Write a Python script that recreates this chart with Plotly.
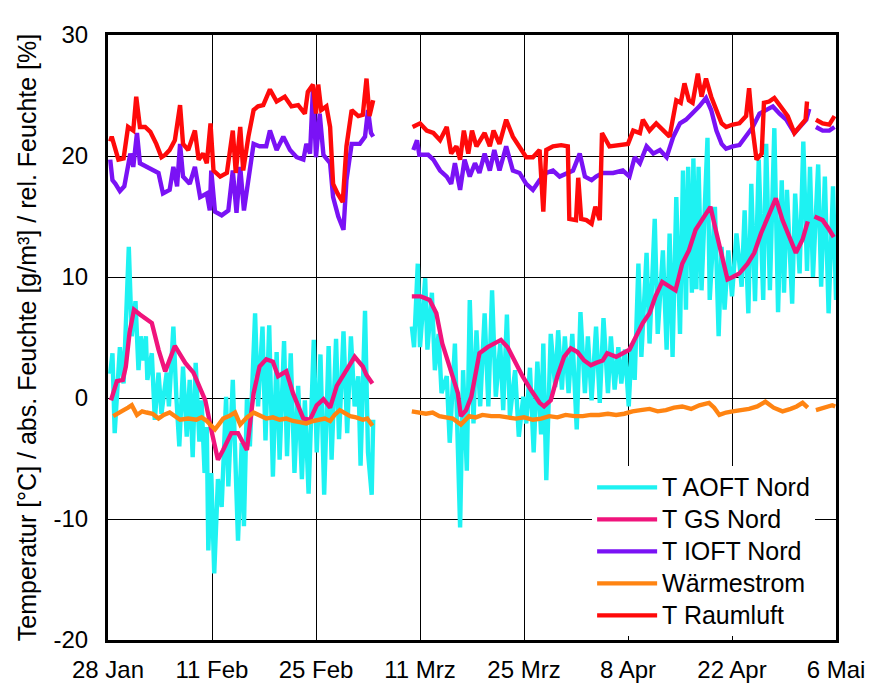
import pandas as pd
import plotly.graph_objects as go

START = pd.Timestamp("2009-01-28")

tick_days = [0, 14, 28, 42, 56, 70, 84, 98]
tick_text = ["28 Jan", "11 Feb", "25 Feb", "11 Mrz", "25 Mrz", "8 Apr", "22 Apr", "6 Mai"]
y_ticks = [-20, -10, 0, 10, 20, 30]
y_tick_text = ["-20", "-10", "0", "10", "20", "30"]

# T AOFT Nord (days since 28 Jan, value)
aoft_day = [0.3, 0.6, 0.9, 1.6, 2.1, 2.8, 3.2, 3.7, 4.1, 4.4, 4.8, 5.1, 5.3, 5.9, 6.3, 6.8, 7.2, 7.9,
            8.2, 8.8, 9.2, 9.6, 10.1, 10.6, 11.0, 11.4, 11.8, 12.3, 12.6, 13.0, 13.3, 13.5, 13.9, 14.3,
            14.8, 15.3, 15.9, 16.2, 16.8, 17.1, 17.5, 18.0, 18.3, 18.7, 19.1, 19.8, 20.2, 20.8, 21.2,
            21.7, 22.2, 22.7, 23.1, 23.7, 24.1, 24.6, 25.1, 25.6, 26.1, 26.5, 27.0, 27.7, 28.1, 28.6,
            29.1, 29.7, 30.1, 30.7, 31.1, 31.7, 32.2, 32.7, 33.2, 33.7, 34.0, 34.6, 35.0, 35.5, 35.7,
            38.0,
            40.9, 41.2, 41.7, 42.0, 42.7, 43.0, 43.6, 44.0, 44.5, 44.9, 45.6, 46.0, 46.7, 47.1, 47.4,
            47.8, 48.3, 48.7, 49.2, 49.6, 50.1, 50.7, 51.2, 51.7, 52.2, 52.8, 53.2, 53.7, 54.1, 54.8,
            55.3, 55.9, 56.3, 56.8, 57.3, 57.8, 58.3, 58.6, 59.0, 59.6, 60.2, 60.6, 61.1, 61.5, 62.0,
            62.5, 63.1, 63.6, 64.2, 64.6, 65.1, 65.7, 66.2, 66.7, 67.3, 67.7, 68.2, 68.7, 69.1, 69.6,
            70.1, 70.5, 70.9, 71.4, 71.8, 72.5, 72.9, 73.6, 74.0, 74.7, 75.2, 75.6, 76.0, 76.5, 77.0,
            77.4, 77.8, 78.1, 78.6, 78.8, 79.2, 79.5, 79.9, 80.7, 81.0, 81.7, 82.2, 82.6, 83.0, 83.5,
            84.0, 84.6, 85.3, 85.7, 86.2, 86.6, 87.1, 87.6, 88.2, 88.6, 89.1, 89.7, 90.2, 90.7, 91.0,
            91.4, 92.1, 92.5, 93.1, 93.6, 94.1, 94.5, 94.9, 95.6, 96.0, 96.5, 97.0, 97.6, 98.0]
aoft_val = [2.0, 3.7, -2.9, 4.2, 1.2, 12.5, 5.1, 8.0, 2.3, 5.1, 3.1, 5.1, 1.5, 3.7, -1.8, 2.1, -1.3, 2.1,
            -0.7, 5.9, 0.1, -4.0, 2.6, -3.2, 1.5, -4.9, 2.9, -3.6, -0.2, -6.2, -2.4, -12.6, -6.2, -14.5,
            -6.7, -9.0, 0.1, -7.3, 1.5, -4.5, -11.8, -3.7, -10.6, -0.1, -4.0, 7.0, -0.7, 5.9, -3.5,
            6.0, -6.5, 3.8, -5.1, 4.7, -4.8, 3.7, -6.2, 1.0, -6.7, -0.2, -7.9, 4.8, -4.5, 3.6,
            -8.0, 4.3, -5.1, 4.9, -3.4, 5.5, -2.9, 5.1, -0.7, 1.8, -5.6, 7.2, -4.5, -8.0, -1.8,
            None,
            5.9, 4.2, 11.1, 4.2, 9.9, 4.0, 8.7, 2.3, 5.3, 0.4, 1.8, -3.7, 4.5, -5.4, -10.7,
            2.3, -6.0, 8.1, -2.1, 5.6, -0.7, 7.0, -0.7, 8.9, 0.1, 4.5, -1.0, 6.9, -1.5, 2.3,
            -3.2, 0.1, -2.1, 2.5, -4.5, 3.0, -3.0, 4.5, -6.8, 5.3, 0.9, 5.6, 0.7, 5.1, 0.4,
            5.3, -2.6, 7.1, 0.4, 5.1, -0.2, 5.9, -0.4, 6.6, 0.4, 5.1, 0.7, 4.2, 1.2, 4.0,
            -0.7, 4.5, 1.5, 11.1, 3.4, 12.0, 4.5, 14.8, 5.3, 12.2, 4.0, 13.6, 3.4, 16.6, 5.3,
            18.8, 7.3, 19.1, 8.7, 19.8, 9.0, 19.1, 8.9, 21.5, 8.1, 15.8, 5.1, 12.5, 7.3, 12.2,
            8.4, 13.6, 9.2, 15.5, 7.0, 17.7, 8.0, 19.7, 8.1, 21.0, 8.9, 22.3, 7.1, 18.0, 8.7,
            17.2, 7.8, 16.9, 10.3, 21.2, 10.5, 19.1, 10.0, 19.3, 9.2, 18.3, 7.0, 17.5, 8.1]

# T GS Nord
gs_day = [0.4, 1.2, 2.0, 2.4, 2.9, 3.5, 4.3, 5.3, 5.9, 6.8, 7.7, 9.0, 10.4, 11.5, 12.4, 13.1, 14.0,
          14.8, 15.5, 16.6, 17.5, 18.7, 19.6, 20.4, 21.3, 22.2, 22.9, 24.0, 24.9, 26.3, 27.2, 28.1,
          29.0, 29.9, 30.8, 32.1, 33.2, 34.3, 34.8, 35.6,
          38.0,
          40.9, 42.1, 43.3, 44.2, 45.0, 46.2, 47.1, 47.5, 48.2, 48.9, 50.0, 51.1, 52.0, 52.9, 53.8,
          54.7, 55.8, 56.9, 58.1, 58.7, 59.6, 60.5, 61.4, 62.3, 63.2, 64.1, 65.0, 65.7, 66.6, 67.2,
          68.4, 69.3, 70.2, 71.1, 72.0, 72.9, 73.7, 74.6, 75.5, 76.4, 77.3, 78.2, 79.1, 80.0, 81.1,
          81.8, 82.5, 83.4, 84.1, 85.0, 86.1, 87.0, 87.9, 88.8, 89.9, 90.8, 91.7, 92.6, 93.5, 94.2,
          94.6,
          95.1, 96.2, 97.1, 97.7]
gs_val = [-0.2, 1.4, 1.5, 2.6, 5.4, 7.3, 6.9, 6.5, 6.2, 4.0, 2.2, 4.3, 2.9, 2.1, 0.7, -0.2, -2.9,
          -5.1, -4.3, -2.9, -2.9, -4.3, 0.4, 2.6, 3.2, 3.0, 1.8, 2.2, 0.4, -1.7, -1.8, -0.6,
          -0.1, -0.8, 1.0, 2.3, 3.4, 2.6, 1.9, 1.2,
          None,
          8.4, 8.4, 8.1, 7.0, 4.5, 2.0, 0.4, -1.5, -1.0, 0.1, 3.7, 4.2, 4.5, 4.8, 4.2,
          3.1, 1.8, 0.7, -0.4, -0.7, -0.2, 1.8, 3.4, 4.1, 3.8, 3.1, 2.7, 2.9, 3.1, 3.7,
          3.4, 3.7, 4.0, 5.1, 6.2, 7.0, 8.4, 9.6, 9.2, 8.9, 11.1, 12.2, 13.9, 14.8, 15.8,
          13.9, 12.0, 9.8, 10.0, 10.3, 11.1, 12.0, 13.6, 15.0, 16.5, 14.7, 13.3, 12.0, 13.1, 14.6,
          None,
          15.0, 14.7, 13.9, 13.3]

# T IOFT Nord
ioft_day = [0.3, 0.6, 1.0, 1.6, 2.2, 2.7, 3.0, 3.4, 3.9, 4.3, 5.2, 6.1, 6.8, 7.4, 8.3, 8.8, 9.3, 9.7,
            10.1, 11.0, 11.7, 12.4, 13.3, 13.7, 13.9, 14.4, 15.3, 16.2, 16.8, 17.3, 17.8, 18.3, 19.0,
            19.6, 20.4, 21.3, 21.8, 22.7, 23.6, 24.5, 25.4, 26.3, 26.7, 27.2, 27.6, 28.0, 28.5, 29.0,
            29.9, 30.3, 31.0, 31.7, 32.1, 32.8, 33.9, 34.6, 35.0, 35.4, 35.7,
            38.0,
            41.1, 41.6, 41.9, 43.1, 43.8, 44.7, 45.6, 46.2, 46.7, 47.4, 48.0, 48.7, 49.4, 50.0, 50.7,
            51.4, 52.0, 52.7, 53.6, 54.5, 55.4, 56.3, 57.2, 58.1, 59.0, 59.9, 60.8, 61.7, 62.6, 63.5,
            64.2, 65.1, 65.7, 66.6, 68.0, 69.3, 70.2, 70.9, 71.6, 72.5, 73.4, 74.3, 75.2, 76.1, 77.0,
            77.8, 78.7, 79.6, 80.5, 81.2, 81.9, 82.6, 83.2, 84.1, 85.0, 85.9, 86.8, 87.7, 88.6, 89.5,
            90.4, 91.3, 92.4, 93.1, 94.0, 94.4,
            94.8,
            95.3, 96.2, 97.1, 97.8]
ioft_val = [19.7, 18.0, 17.7, 17.1, 17.5, 19.4, 20.2, 19.1, 21.9, 19.4, 19.1, 18.8, 18.6, 16.9, 17.2, 19.1, 17.5, 21.0,
            18.3, 17.7, 19.1, 16.6, 16.9, 15.5, 18.8, 15.4, 15.1, 15.5, 18.8, 15.3, 19.1, 15.5, 18.8,
            21.0, 20.8, 20.8, 22.1, 20.5, 21.6, 20.5, 19.9, 19.7, 21.0, 20.2, 25.7, 19.9, 23.5, 20.1,
            19.4, 16.6, 15.0, 13.9, 18.0, 21.0, 21.0, 21.6, 23.8, 21.9, 21.6,
            None,
            20.5, 21.3, 20.1, 20.1, 19.7, 18.8, 18.3, 17.7, 19.4, 17.2, 19.7, 18.3, 19.4, 18.6, 20.2,
            18.8, 20.5, 18.8, 20.8, 18.8, 18.6, 17.7, 17.2, 18.0, 18.6, 18.8, 18.3, 18.6, 18.8, 20.2,
            18.3, 18.0, 18.3, 18.6, 18.6, 18.8, 18.3, 19.9, 19.4, 20.8, 20.2, 20.5, 19.9, 21.6, 22.7,
            23.0, 23.5, 24.1, 24.8, 23.8, 22.1, 21.0, 20.6, 20.8, 20.9, 21.6, 22.4, 23.5, 23.8, 24.1,
            23.5, 23.0, 21.9, 22.4, 23.0, 23.9,
            None,
            22.4, 22.1, 22.1, 22.4]

# Wärmestrom
flux_day = [0.7, 1.4, 2.1, 2.7, 3.2, 3.9, 4.6, 5.2, 6.0, 6.8, 7.5, 8.3, 9.0, 9.7, 10.8, 11.9, 12.6, 13.3,
            14.4, 15.5, 16.3, 17.1, 17.8, 18.7, 19.6, 20.5, 21.3, 22.2, 23.1, 24.0, 24.9, 25.8, 26.7,
            27.6, 28.5, 29.2, 29.9, 30.5, 31.2, 31.9, 32.6, 33.4, 34.3, 34.9, 35.6,
            38.0,
            40.9, 41.8, 42.8, 43.7, 44.6, 45.5, 46.4, 47.5, 48.6, 49.5, 50.4, 51.6, 52.7, 53.8, 54.9,
            56.0, 57.2, 58.3, 59.4, 60.5, 61.6, 62.8, 63.9, 65.0, 66.1, 67.3, 68.4, 69.5, 70.6, 71.7,
            72.9, 74.0, 75.1, 76.2, 77.3, 78.5, 79.6, 80.9, 81.6, 82.3, 83.2, 84.1, 85.2, 86.3, 87.4,
            88.5, 89.6, 90.8, 91.9, 92.7, 93.5, 94.2,
            94.7,
            95.3, 96.4, 97.5, 97.9]
flux_val = [-1.5, -1.2, -1.0, -0.8, -0.6, -1.4, -1.1, -1.2, -1.3, -1.7, -1.4, -1.2, -1.5, -1.8, -1.7, -1.8, -1.6, -1.9,
            -2.6, -1.7, -1.5, -1.2, -2.2, -1.6, -1.2, -1.5, -1.7, -1.6, -1.8, -1.7, -1.9, -2.0, -2.1,
            -1.9, -1.8, -1.7, -1.9, -1.4, -1.0, -1.2, -1.5, -1.6, -1.8, -1.7, -2.3,
            None,
            -1.1, -1.2, -1.3, -1.2, -1.5, -1.6, -1.7, -2.2, -1.5, -1.6, -1.4, -1.5, -1.5, -1.6, -1.7,
            -1.6, -1.8, -1.7, -1.5, -1.6, -1.4, -1.5, -1.5, -1.4, -1.4, -1.3, -1.4, -1.3, -1.1, -1.0,
            -0.9, -1.1, -1.0, -0.8, -0.7, -0.9, -0.6, -0.4, -0.8, -1.4, -1.2, -1.1, -1.0, -0.9, -0.7,
            -0.3, -0.8, -1.1, -0.9, -0.7, -0.4, -0.8,
            None,
            -1.0, -0.8, -0.6, -0.7]

# T Raumluft
raum_day = [0.3, 0.5, 1.4, 2.1, 2.7, 3.4, 3.8, 4.3, 5.0, 5.7, 6.5, 7.2, 7.7, 8.3, 9.0, 9.7, 10.1, 10.8,
            11.7, 12.2, 12.8, 13.3, 13.8, 14.2, 15.1, 16.0, 16.8, 17.2, 17.8, 18.2, 18.9, 19.6, 20.2,
            20.9, 21.8, 22.7, 23.8, 24.7, 25.6, 26.5, 26.9, 27.6, 28.0, 28.3, 28.7, 29.4, 29.9, 30.3,
            30.9, 31.6, 32.1, 32.8, 33.7, 34.3, 34.8, 35.2, 35.7,
            38.0,
            41.0, 42.0, 42.9, 43.8, 44.7, 45.6, 46.2, 46.9, 47.4, 47.9, 48.5, 49.0, 49.6, 50.7, 51.4,
            51.9, 52.7, 53.6, 54.5, 55.4, 56.3, 57.2, 58.1, 58.6, 59.0, 59.9, 61.0, 61.9, 62.1, 63.0,
            63.3, 63.7, 64.4, 65.1, 65.6, 66.2, 66.5, 67.5, 68.8, 70.0, 70.7, 71.6, 72.0, 72.9, 73.8,
            74.7, 75.6, 76.5, 77.1, 77.6, 78.2, 78.7, 79.4, 79.9, 80.5, 81.2, 81.9, 82.6, 83.2, 84.1,
            85.0, 85.9, 86.3, 86.8, 87.3, 88.0, 88.3, 89.0, 89.7, 90.6, 91.5, 92.4, 93.1, 93.9, 94.1,
            94.6,
            95.3, 96.2, 97.1, 97.8]
raum_val = [21.2, 21.6, 19.7, 19.8, 22.4, 22.1, 24.9, 22.4, 22.4, 22.0, 21.0, 19.9, 20.1, 20.5, 21.3, 24.2, 21.0, 20.5,
            22.1, 19.7, 20.2, 19.4, 22.7, 18.8, 18.3, 18.6, 22.1, 18.6, 22.4, 18.8, 21.6, 23.8, 24.1,
            24.2, 25.5, 24.5, 24.9, 24.1, 24.2, 23.5, 25.3, 25.9, 23.5, 25.9, 23.8, 24.1, 22.4, 17.7,
            16.9, 16.2, 20.8, 23.8, 23.3, 23.4, 26.4, 23.3, 24.6,
            None,
            22.4, 22.7, 22.1, 21.9, 21.3, 22.4, 20.2, 20.8, 19.7, 22.1, 20.2, 22.1, 20.8, 21.9, 20.8,
            22.1, 21.0, 23.0, 21.6, 20.8, 19.9, 19.9, 20.5, 15.4, 20.5, 20.8, 20.9, 20.8, 14.8, 14.7,
            18.2, 14.8, 14.7, 14.4, 15.8, 14.7, 21.9, 20.8, 20.9, 21.0, 22.1, 21.9, 23.0, 22.1, 22.7,
            22.1, 21.6, 24.6, 24.4, 26.0, 24.6, 24.4, 26.8, 24.9, 26.4, 24.9, 23.8, 22.7, 22.4, 22.6,
            22.7, 23.3, 25.6, 22.1, 19.7, 20.2, 24.4, 24.5, 24.8, 24.1, 23.3, 21.9, 22.4, 23.0, 24.5,
            None,
            23.0, 22.7, 22.6, 23.3]


def to_dates(days):
    return [START + pd.Timedelta(days=d) for d in days]


series = [
    ("T AOFT Nord", aoft_day, aoft_val, "#1EF2F2"),
    ("T GS Nord", gs_day, gs_val, "#F0147C"),
    ("T IOFT Nord", ioft_day, ioft_val, "#7A12F5"),
    ("Wärmestrom", flux_day, flux_val, "#FF8412"),
    ("T Raumluft", raum_day, raum_val, "#FF0A0A"),
]

FONT = "Liberation Sans, Arial, sans-serif"

fig = go.Figure()
for name, d, v, c in series:
    fig.add_trace(go.Scatter(x=to_dates(d), y=v, mode="lines",
                             name='<span style="font-size:25px">' + name + '</span>',
                             line=dict(color=c, width=4.4), connectgaps=False))

fig.update_layout(
    width=871, height=686,
    margin=dict(l=108, r=35, t=35, b=46, autoexpand=False),
    paper_bgcolor="white", plot_bgcolor="white",
    font=dict(family=FONT, size=24, color="black"),
    showlegend=True,
    legend=dict(x=0.665, y=0.006, xanchor="left", yanchor="bottom",
                bgcolor="white", borderwidth=0, itemwidth=60,
                font=dict(family=FONT, size=22.3, color="black"),
                tracegroupgap=0),
)
fig.update_xaxes(
    range=[START, START + pd.Timedelta(days=98)],
    tickvals=to_dates(tick_days), ticktext=tick_text,
    showgrid=True, gridcolor="black", gridwidth=1,
    showline=True, linecolor="black", linewidth=3, mirror=True,
    ticks="", tickfont=dict(size=24), ticklabelstandoff=6, automargin=False,
)
fig.update_yaxes(
    range=[-20, 30], tickvals=y_ticks, ticktext=y_tick_text,
    showgrid=True, gridcolor="black", gridwidth=1, zeroline=False,
    showline=True, linecolor="black", linewidth=3, mirror=True,
    ticks="", tickfont=dict(size=24), ticklabelstandoff=12, automargin=False,
    title=dict(text="Temperatur [°C] / abs. Feuchte [g/m³] / rel. Feuchte [%]",
               font=dict(size=25), standoff=10),
)

fig.write_html("out.html")
